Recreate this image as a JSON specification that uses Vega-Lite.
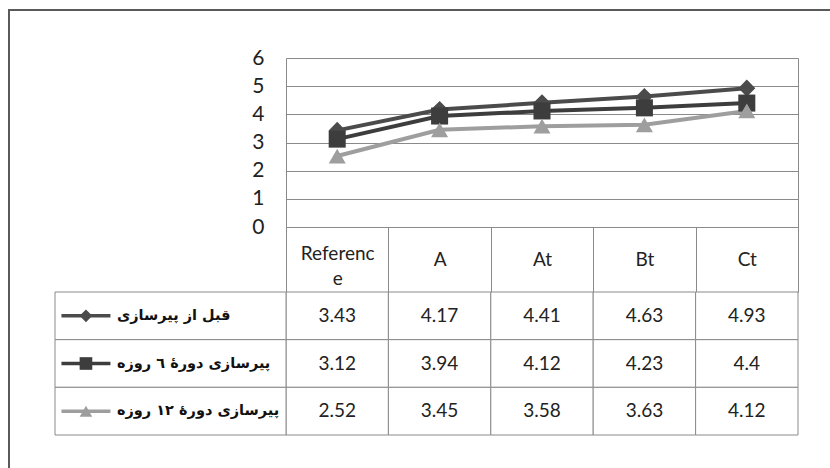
{
  "$schema": "https://vega.github.io/schema/vega-lite/v6.json",
  "width": 822,
  "height": 460,
  "autosize": {"type": "none"},
  "padding": {"left": 9, "top": 10, "right": -1, "bottom": -2},
  "background": "white",
  "config": {"view": {"stroke": "#5a5a5a", "strokeWidth": 2}, "font": "Lato"},
  "datasets": {
    "vals": [
      {"series": "قبل از پیرسازی", "category": "Reference", "value": 3.43},
      {"series": "قبل از پیرسازی", "category": "A", "value": 4.17},
      {"series": "قبل از پیرسازی", "category": "At", "value": 4.41},
      {"series": "قبل از پیرسازی", "category": "Bt", "value": 4.63},
      {"series": "قبل از پیرسازی", "category": "Ct", "value": 4.93},
      {"series": "پیرسازی دورهٔ ٦ روزه", "category": "Reference", "value": 3.12},
      {"series": "پیرسازی دورهٔ ٦ روزه", "category": "A", "value": 3.94},
      {"series": "پیرسازی دورهٔ ٦ روزه", "category": "At", "value": 4.12},
      {"series": "پیرسازی دورهٔ ٦ روزه", "category": "Bt", "value": 4.23},
      {"series": "پیرسازی دورهٔ ٦ روزه", "category": "Ct", "value": 4.4},
      {"series": "پیرسازی دورهٔ ١٢ روزه", "category": "Reference", "value": 2.52},
      {"series": "پیرسازی دورهٔ ١٢ روزه", "category": "A", "value": 3.45},
      {"series": "پیرسازی دورهٔ ١٢ روزه", "category": "At", "value": 3.58},
      {"series": "پیرسازی دورهٔ ١٢ روزه", "category": "Bt", "value": 3.63},
      {"series": "پیرسازی دورهٔ ١٢ روزه", "category": "Ct", "value": 4.12}
    ],
    "series": [
      {"series": "قبل از پیرسازی"},
      {"series": "پیرسازی دورهٔ ٦ روزه"},
      {"series": "پیرسازی دورهٔ ١٢ روزه"}
    ]
  },
  "layer": [
    {
      "data": {"name": "vals"},
      "layer": [
        {
          "mark": {"type": "line", "strokeWidth": 4},
          "encoding": {
            "x": {
              "field": "category", "type": "nominal",
              "sort": ["Reference", "A", "At", "Bt", "Ct"],
              "scale": {"domain": ["Reference", "A", "At", "Bt", "Ct"], "range": [277, 789], "paddingInner": 0, "paddingOuter": 0},
              "axis": {
                "orient": "bottom", "offset": -243, "title": null, "grid": false,
                "domain": true, "domainColor": "#8a8a8a", "domainWidth": 1,
                "ticks": true, "tickBand": "extent", "tickSize": 65, "tickColor": "#8a8a8a", "tickWidth": 1,
                "labelPadding": -33,
                "labelBaseline": {"condition": {"test": "datum.value == 'Reference'", "value": "alphabetic"}, "value": "middle"},
                "labelAngle": 0, "labelAlign": "center",
                "labelFont": "Lato", "labelFontSize": 19, "labelColor": "#222222", "labelLineHeight": 25,
                "labelFlush": false, "labelOverlap": false,
                "labelExpr": "datum.value == 'Reference' ? ['Referenc', 'e'] : datum.label"
              }
            },
            "y": {
              "field": "value", "type": "quantitative",
              "scale": {"domain": [0, 6], "range": [217, 48], "nice": false, "zero": true},
              "axis": {
                "orient": "left", "offset": -277, "title": null,
                "values": [0, 1, 2, 3, 4, 5, 6],
                "domain": true, "domainColor": "#8a8a8a", "domainWidth": 1,
                "ticks": false, "labelPadding": 22,
                "labelFont": "Lato", "labelFontSize": 21, "labelColor": "#222222",
                "grid": true, "gridColor": "#8a8a8a", "gridWidth": 1
              }
            },
            "color": {
              "field": "series", "type": "nominal",
              "scale": {"domain": ["قبل از پیرسازی", "پیرسازی دورهٔ ٦ روزه", "پیرسازی دورهٔ ١٢ روزه"], "range": ["#4b4b4b", "#3d3d3d", "#9e9e9e"]},
              "legend": null
            }
          }
        },
        {
          "mark": {"type": "point", "filled": true, "size": 290, "opacity": 1},
          "encoding": {
            "x": {"field": "category", "type": "nominal", "sort": ["Reference", "A", "At", "Bt", "Ct"]},
            "y": {
              "field": "value", "type": "quantitative",
              "axis": {"orient": "right", "offset": -33, "title": null, "labels": false, "ticks": false, "grid": false, "domain": true, "domainColor": "#8a8a8a", "domainWidth": 1}
            },
            "color": {"field": "series", "type": "nominal", "legend": null},
            "shape": {
              "field": "series", "type": "nominal",
              "scale": {"domain": ["قبل از پیرسازی", "پیرسازی دورهٔ ٦ روزه", "پیرسازی دورهٔ ١٢ روزه"], "range": ["diamond", "square", "triangle-up"]},
              "legend": null
            }
          }
        }
      ],
      "resolve": {"axis": {"y": "independent"}}
    },
    {
      "data": {"name": "vals"},
      "layer": [
        {
          "mark": {"type": "rect", "fill": "white", "stroke": "#8a8a8a", "strokeWidth": 1},
          "encoding": {
            "x": {
              "field": "category", "type": "nominal", "sort": ["Reference", "A", "At", "Bt", "Ct"],
              "scale": {"domain": ["Reference", "A", "At", "Bt", "Ct"], "range": [277, 789], "paddingInner": 0, "paddingOuter": 0},
              "axis": null
            },
            "y": {
              "field": "series", "type": "nominal",
              "scale": {"domain": ["قبل از پیرسازی", "پیرسازی دورهٔ ٦ روزه", "پیرسازی دورهٔ ١٢ روزه"], "range": [282, 425], "paddingInner": 0, "paddingOuter": 0},
              "axis": null
            }
          }
        },
        {
          "mark": {"type": "text", "font": "Lato", "fontSize": 19, "color": "#222222"},
          "encoding": {
            "x": {"field": "category", "type": "nominal", "sort": ["Reference", "A", "At", "Bt", "Ct"], "axis": null},
            "y": {"field": "series", "type": "nominal", "axis": null},
            "text": {"field": "value", "type": "quantitative"}
          }
        }
      ]
    },
    {
      "data": {"name": "series"},
      "layer": [
        {
          "mark": {"type": "rect", "fill": "white", "stroke": "#8a8a8a", "strokeWidth": 1},
          "encoding": {
            "x": {"datum": "legend", "type": "nominal", "scale": {"domain": ["legend"], "range": [46, 277], "paddingInner": 0, "paddingOuter": 0}, "axis": null},
            "y": {
              "field": "series", "type": "nominal",
              "scale": {"domain": ["قبل از پیرسازی", "پیرسازی دورهٔ ٦ روزه", "پیرسازی دورهٔ ١٢ روزه"], "range": [282, 425], "paddingInner": 0, "paddingOuter": 0},
              "axis": null
            }
          }
        },
        {
          "mark": {"type": "point", "shape": "stroke", "size": 2401, "strokeWidth": 3.5, "filled": false, "opacity": 1},
          "encoding": {
            "x": {"datum": "legend", "type": "nominal", "bandPosition": 0.134},
            "y": {"field": "series", "type": "nominal"},
            "stroke": {"field": "series", "type": "nominal", "scale": {"domain": ["قبل از پیرسازی", "پیرسازی دورهٔ ٦ روزه", "پیرسازی دورهٔ ١٢ روزه"], "range": ["#4b4b4b", "#3d3d3d", "#9e9e9e"]}, "legend": null}
          }
        },
        {
          "mark": {"type": "point", "filled": true, "size": 160, "opacity": 1},
          "encoding": {
            "x": {"datum": "legend", "type": "nominal", "bandPosition": 0.134},
            "y": {"field": "series", "type": "nominal"},
            "color": {"field": "series", "type": "nominal", "legend": null},
            "shape": {"field": "series", "type": "nominal", "legend": null}
          }
        },
        {
          "mark": {"type": "text", "align": "left", "baseline": "middle", "font": "DejaVu Sans", "fontSize": 14.5, "fontWeight": "bold", "color": "#111111"},
          "encoding": {
            "x": {"datum": "legend", "type": "nominal", "bandPosition": 0.268},
            "y": {"field": "series", "type": "nominal"},
            "text": {"field": "series", "type": "nominal"}
          }
        }
      ]
    }
  ],
  "resolve": {"scale": {"x": "independent", "y": "independent"}}
}
